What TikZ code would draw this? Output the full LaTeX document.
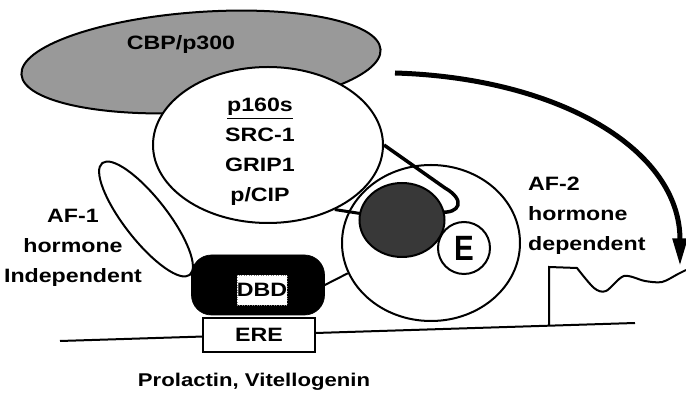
\documentclass[tikz,border=0pt]{standalone}
\usepackage{fontspec}
\setmainfont{Liberation Sans}[FakeStretch=1.2]
\usepackage{tikz}
\usetikzlibrary{shapes.geometric,arrows.meta}

\begin{document}
\begin{tikzpicture}[x=0.2mm,y=-0.2mm,
	nhan/.style={font=\bfseries\fontsize{11}{17}\selectfont},
	vien/.style={draw=black,line width=0.4mm},
	elip/.style={ellipse,vien,fill=white,inner sep=0pt}]
	\useasboundingbox (0,0) rectangle (686,405);
	% Vẽ ADN
	\coordinate (dnaL) at (60,341);
	\coordinate (dnaR) at (635,323);
	\draw[vien] (dnaL) -- (dnaR);
	\draw[vien] (549,326) -- (549,267) -- plot[smooth] coordinates {(577,268) (594,288) (606,291) (624,276) (645,281) (662,282) (678,274) (686,270)};
	% Vẽ các phân tử
	\node[elip,fill=black!40,minimum width=72mm,minimum height=20mm,rotate=4] (cbp) at (201,62) {};
	\node[nhan] (cbptext) at (181,45) {CBP/p300};
	\node[elip,minimum width=28.4mm,minimum height=8.6mm,rotate=-52] (af1) at (146,219) {};
	\node[elip,minimum width=46mm,minimum height=31.2mm] (p160) at (268,145) {};
	\node[nhan,align=center] (p160text) at (260,152) {\underline{p160s}\\SRC-1\\GRIP1\\p/CIP};
	\node[elip,minimum width=35.6mm,minimum height=31.2mm] (lbd) at (431,243) {};
	\node[draw,fill=black,rounded corners=4mm,minimum width=26.6mm,minimum height=12mm] (dbd) at (258,285) {};
	\node[fill=white,draw=gray,densely dotted,minimum width=10mm,minimum height=6mm,inner sep=0pt,nhan] (dbdtext) at (262,290) {DBD};
	\node[vien,fill=white,minimum width=22.4mm,minimum height=6.8mm,inner sep=0pt,nhan] (ere) at (259,335) {ERE};
	% Vẽ các đường nối
	\draw[vien] (dbd.east) -- (lbd.200);
	\draw[line width=0.6mm] (p160.-44) -- (402,220);
	\draw[line width=0.7mm] (p160.east) -- (445,188) .. controls (466,200) and (460,214) .. (440,212);
	\node[elip,fill=black!78,minimum width=17mm,minimum height=14.8mm] (lxxll) at (402,220) {};
	\node[circle,vien,fill=white,minimum size=10.4mm,inner sep=0pt,font=\bfseries\fontsize{20}{20}\selectfont] (horm) at (464,248) {\scalebox{0.7}[1]{E}};
	% Mũi tên
	\coordinate (arrowStart) at (395,73);
	\coordinate (arrowEnd) at (680,266);
	\draw[line width=1mm,-{Triangle[length=5.5mm,width=2.8mm]}] (arrowStart) .. controls (560,78) and (680,150) .. (arrowEnd);
	% Nhãn
	\node[nhan,align=center] (af1text) at (73,248) {AF-1\\hormone\\Independent};
	\node[nhan,align=left,anchor=west] (af2text) at (522,216) {AF-2\\hormone\\dependent};
	\node[font=\bfseries\fontsize{10.5}{12}\selectfont] (gene) at (254,382) {Prolactin, Vitellogenin};
\end{tikzpicture}
\end{document}
